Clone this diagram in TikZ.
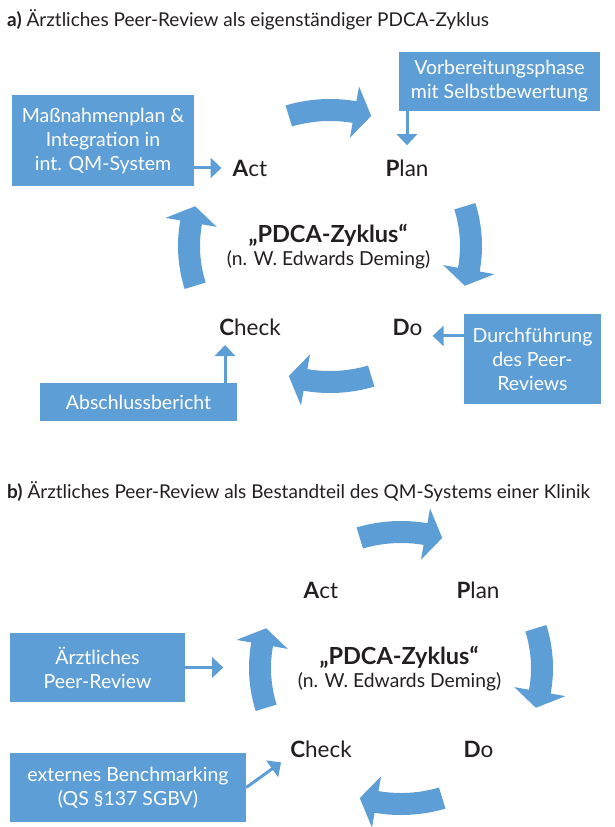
\documentclass[tikz,border=0pt]{standalone}
\usepackage{fontspec}
\setmainfont{Lato}
\usetikzlibrary{arrows.meta}
\definecolor{qblue}{RGB}{94,158,214}
\definecolor{ink}{RGB}{35,31,32}
\newcommand{\cycarrow}[1]{%
  \pgfmathsetmacro{\ta}{#1+17}\pgfmathsetmacro{\tb}{#1-10}\pgfmathsetmacro{\tp}{#1-17}%
  \fill[cyc] (\ta:152 and 147) arc[start angle=\ta, end angle=\tb, x radius=152, y radius=147]
    -- (\tb:167 and 162) -- (\tp:141 and 136) -- (\tb:115 and 110) -- (\tb:130 and 125)
    arc[start angle=\tb, end angle=\ta, x radius=130, y radius=125] -- cycle;}
\begin{document}
\begin{tikzpicture}[x=1pt,y=1pt,
  box/.style={fill=qblue, text=white, align=center, inner sep=0pt, font=\fontsize{19.5}{24}\selectfont},
  lbl/.style={font=\fontsize{22.5}{24}\selectfont, text=ink, inner sep=0pt, anchor=base},
  ttl/.style={font=\fontsize{19}{22}\selectfont, text=ink, inner sep=0pt, anchor=base west},
  big/.style={font=\bfseries\fontsize{23.5}{24}\selectfont, text=ink, inner sep=0pt, anchor=base},
  sub/.style={font=\fontsize{19.3}{22}\selectfont, text=ink, inner sep=0pt, anchor=base},
  conn/.style={draw=qblue, line width=3pt, -{Triangle[width=20pt,length=11pt]}},
  cyc/.style={fill=qblue}]
\useasboundingbox (0,0) rectangle (614,-827);
\begin{scope}
\clip (0,0) rectangle (614,-827);
% ---------- part a ----------
\node[ttl] (ta) at (7,-27) {\textbf{a)} Ärztliches Peer-Review als eigenständiger PDCA-Zyklus};
\begin{scope}[shift={(330,-246)}]
  \cycarrow{90}\cycarrow{0}\cycarrow{-90}\cycarrow{180}
\end{scope}
\node[big] (pa) at (328,-242) {„PDCA-Zyklus“};
\node[sub] (da) at (328.5,-265) {(n. W. Edwards Deming)};
\node[lbl] (act) at (250,-176) {\textbf{A}ct};
\node[lbl] (plan) at (407,-176) {\textbf{P}lan};
\node[lbl] (check) at (250,-335) {\textbf{C}heck};
\node[lbl] (do) at (407.5,-335) {\textbf{D}o};
\node[box, minimum width=201pt, minimum height=59pt] (boxV) at (499.5,-81.5) {Vorbereitungsphase\\mit Selbstbewertung};
\node[box, minimum width=182pt, minimum height=91pt] (boxM) at (103,-140.5) {Maßnahmenplan \&\\Integration in\\int. QM-System};
\node[box, minimum width=137pt, minimum height=90pt] (boxD) at (532.5,-359) {Durchführung\\des Peer-\\Reviews};
\node[box, minimum width=197pt, minimum height=38pt] (boxA) at (138.5,-402) {Abschlussbericht};
\draw[conn] (boxV.south -| plan) -- ([yshift=14pt]plan.north);
\draw[conn] (boxM.east |- act) -- ([xshift=-11pt]act.west);
\coordinate (dA) at ([yshift=-9pt]do.east);
\draw[conn] (boxD.west |- dA) -- ([xshift=10pt]dA);
\coordinate (cA) at ([xshift=-25pt,yshift=-10pt]check.base);
\draw[conn] (boxA.north -| cA) -- (cA);
% ---------- part b ----------
\node[ttl] (tb) at (7,-498) {\textbf{b)} Ärztliches Peer-Review als Bestandteil des QM-Systems einer Klinik};
\begin{scope}[shift={(401,-668)}]
  \cycarrow{90}\cycarrow{0}\cycarrow{-90}\cycarrow{180}
\end{scope}
\node[big] (pb) at (399,-664) {„PDCA-Zyklus“};
\node[sub] (db) at (399.5,-687) {(n. W. Edwards Deming)};
\node[lbl] (actb) at (321,-598) {\textbf{A}ct};
\node[lbl] (planb) at (478,-598) {\textbf{P}lan};
\node[lbl] (checkb) at (321,-757) {\textbf{C}heck};
\node[lbl] (dob) at (478.5,-757) {\textbf{D}o};
\node[box, minimum width=175pt, minimum height=69pt] (b1) at (97.5,-667.5) {Ärztliches\\Peer-Review};
\node[box, minimum width=236pt, minimum height=69pt] (b2) at (128,-787.5) {externes Benchmarking\\(QS §137 SGBV)};
\coordinate (b1tip) at ([xshift=38pt]b1.east);
\draw[conn] (b1.east) -- (b1tip);
\draw[conn] (b2.east) -- ([xshift=-9pt,yshift=-5pt]checkb.south west);
\end{scope}
\end{tikzpicture}
\end{document}
